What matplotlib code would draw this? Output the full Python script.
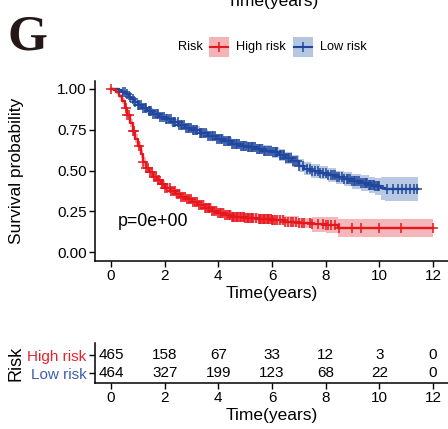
import numpy as np
import matplotlib
matplotlib.use("Agg")
import matplotlib.pyplot as plt
from matplotlib.patches import Rectangle
from matplotlib.lines import Line2D

plt.rcParams['font.family'] = ['Liberation Sans', 'DejaVu Sans']

# ---------------- data ----------------
groups = ["High risk", "Low risk"]
colors = {"High risk": "#E7161D", "Low risk": "#21479C"}
fills = {"High risk": "#F5B3B6", "Low risk": "#B5C6E3"}
label_colors = {"High risk": "#E8222A", "Low risk": "#3D5FAE"}

# Low risk survival steps
t_low = [0.00, 0.15, 0.30, 0.42, 0.55, 0.65, 0.75, 0.85, 1.00, 1.15, 1.35, 1.55,
         1.80, 2.00, 2.25, 2.50, 2.75, 3.00, 3.30, 3.60, 3.90, 4.20, 4.50, 4.80,
         5.10, 5.40, 5.70, 6.00, 6.25, 6.50, 6.75, 7.00, 7.20, 7.45, 7.80, 8.10,
         8.40, 8.70, 9.00, 9.30, 9.60, 9.85, 10.05, 10.20]
s_low = [1.000, 0.998, 0.990, 0.980, 0.965, 0.950, 0.935, 0.920, 0.900, 0.885, 0.865, 0.848,
         0.830, 0.812, 0.795, 0.778, 0.760, 0.745, 0.730, 0.712, 0.695, 0.678, 0.662, 0.652,
         0.642, 0.632, 0.622, 0.612, 0.595, 0.577, 0.557, 0.530, 0.510, 0.497, 0.487, 0.472,
         0.458, 0.447, 0.435, 0.425, 0.413, 0.403, 0.392, 0.386]
hw_low = [0.000, 0.003, 0.006, 0.008, 0.010, 0.011, 0.012, 0.013, 0.015, 0.016, 0.017, 0.018,
          0.019, 0.020, 0.021, 0.022, 0.023, 0.024, 0.025, 0.026, 0.027, 0.028, 0.029, 0.030,
          0.031, 0.032, 0.033, 0.034, 0.035, 0.036, 0.037, 0.038, 0.039, 0.040, 0.040, 0.041,
          0.042, 0.044, 0.046, 0.048, 0.050, 0.052, 0.070, 0.075]
end_low = 11.45
cens_low = [0.45, 0.52, 0.6, 0.7, 0.8, 0.9, 1.0, 1.05, 1.1, 1.18, 1.25, 1.32, 1.4, 1.45,
            1.5, 1.58, 1.65, 1.7, 1.75, 1.82, 1.9, 1.97, 2.05, 2.1, 2.15, 2.22, 2.3, 2.35,
            2.4, 2.48, 2.55, 2.6, 2.65, 2.72, 2.8, 2.85, 2.9, 2.98, 3.05, 3.1, 3.15, 3.22,
            3.3, 3.35, 3.4, 3.48, 3.55, 3.62, 3.7, 3.75, 3.8, 3.88, 3.95, 4.02, 4.1, 4.15,
            4.2, 4.28, 4.35, 4.4, 4.45, 4.52, 4.6, 4.65, 4.7, 4.78, 4.85, 4.9, 4.95, 5.02,
            5.1, 5.15, 5.2, 5.25, 5.3, 5.38, 5.45, 5.5, 5.55, 5.62, 5.7, 5.75, 5.8, 5.88,
            5.95, 6.02, 6.1, 6.15, 6.2, 6.28, 6.35, 6.4, 6.45, 6.52, 6.6, 6.65, 6.7, 6.78,
            6.85, 6.92, 7.0, 7.15, 7.3, 7.4, 7.5, 7.6, 7.7, 7.8, 7.9, 8.0, 8.1, 8.2,
            8.28, 8.35, 8.42, 8.5, 8.6, 8.7, 8.78, 8.85, 8.92, 9.0, 9.05, 9.1, 9.18, 9.25,
            9.32, 9.4, 9.45, 9.5, 9.55, 9.6, 9.65, 9.7, 9.75, 9.8, 9.85, 9.9, 9.95, 10.0,
            10.3, 10.5, 10.7, 10.85, 11.0, 11.15, 11.3, 11.4]

# High risk survival steps
t_high = [0.00, 0.10, 0.20, 0.30, 0.40, 0.50, 0.60, 0.70, 0.80, 0.90, 1.00, 1.10,
          1.20, 1.30, 1.40, 1.55, 1.70, 1.85, 2.00, 2.20, 2.40, 2.60, 2.80, 3.00,
          3.25, 3.50, 3.75, 4.00, 4.25, 4.50, 5.00, 5.50, 6.00, 6.50, 7.00, 7.50,
          8.00, 8.45]
s_high = [1.000, 0.995, 0.980, 0.955, 0.925, 0.885, 0.840, 0.790, 0.740, 0.695, 0.650, 0.600,
          0.555, 0.515, 0.488, 0.462, 0.440, 0.415, 0.395, 0.375, 0.358, 0.340, 0.325, 0.310,
          0.290, 0.272, 0.255, 0.240, 0.228, 0.218, 0.210, 0.203, 0.197, 0.188, 0.180, 0.172,
          0.166, 0.147]
hw_high = [0.000, 0.005, 0.010, 0.014, 0.017, 0.020, 0.022, 0.024, 0.025, 0.026, 0.026, 0.026,
           0.026, 0.026, 0.026, 0.026, 0.026, 0.026, 0.026, 0.026, 0.026, 0.027, 0.027, 0.028,
           0.028, 0.028, 0.029, 0.029, 0.030, 0.030, 0.030, 0.030, 0.030, 0.031, 0.031, 0.045,
           0.047, 0.055]
end_high = 12.0
cens_high = [0.0, 0.55, 0.6, 0.65, 0.82, 0.85, 1.05, 1.2, 1.3, 1.38, 1.45, 1.52, 1.6, 1.68,
             1.75, 1.8, 1.88, 1.95, 2.02, 2.1, 2.18, 2.25, 2.3, 2.38, 2.45, 2.52, 2.6, 2.68,
             2.75, 2.82, 2.9, 2.98, 3.05, 3.12, 3.2, 3.28, 3.35, 3.42, 3.5, 3.55, 3.6, 3.65,
             3.7, 3.78, 3.85, 3.92, 4.0, 4.05, 4.1, 4.18, 4.25, 4.32, 4.4, 4.45, 4.5, 4.55,
             4.6, 4.65, 4.7, 4.75, 4.8, 4.85, 4.9, 4.95, 5.0, 5.05, 5.1, 5.15, 5.2, 5.25,
             5.3, 5.4, 5.5, 5.55, 5.6, 5.65, 5.7, 5.75, 5.8, 5.85, 5.9, 5.95, 6.0, 6.05,
             6.1, 6.2, 6.3, 6.4, 6.5, 6.6, 6.7, 6.8, 6.9, 7.0, 7.1, 7.2, 7.4, 7.5, 7.7,
             7.9, 8.0, 8.1, 8.2, 8.35, 8.5, 9.0, 9.3, 10.0, 10.8, 12.0]

curves = {
    "High risk": (t_high, s_high, hw_high, end_high, cens_high),
    "Low risk": (t_low, s_low, hw_low, end_low, cens_low),
}

table_times = [0, 2, 4, 6, 8, 10, 12]
at_risk = {
    "High risk": [465, 158, 67, 33, 12, 3, 0],
    "Low risk": [464, 327, 199, 123, 68, 22, 0],
}
pval_text = "p=0e+00"

# ---------------- figure ----------------
W, H = 448, 429
fig = plt.figure(figsize=(W / 100, H / 100), dpi=100)

def fx(px):
    return px / W

def fy(py):
    return 1 - py / H

ax_w = fx(449) - fx(95)
ax = fig.add_axes([fx(95), fy(260.5), ax_w, fy(80.5) - fy(260.5)])

for g in ["Low risk", "High risk"]:
    t, s, hw, tend, cens = curves[g]
    t = np.append(np.array(t), tend)
    s = np.append(np.array(s), s[-1])
    hw = np.append(np.array(hw), hw[-1])
    lo = np.clip(s - hw, 0, 1)
    hi = np.clip(s + hw, 0, 1)
    ax.fill_between(t, lo, hi, step='post', color=fills[g], lw=0, alpha=0.95, zorder=1)
    ax.step(t, s, where='post', color=colors[g], lw=1.7, zorder=3)
    c = np.array(cens)
    idx = np.searchsorted(t, c, side='right') - 1
    ax.plot(c, s[idx], ls='none', marker='+', ms=6.5, mew=1.1, color=colors[g], zorder=4)

ax.set_xlim(-0.6, 12.6)
ax.set_ylim(-0.05, 1.05)
ax.set_xticks([0, 2, 4, 6, 8, 10, 12])
ax.set_yticks([0, 0.25, 0.5, 0.75, 1.0])
ax.set_yticklabels(["0.00", "0.25", "0.50", "0.75", "1.00"])
for sp in ["top", "right"]:
    ax.spines[sp].set_visible(False)
for sp in ["left", "bottom"]:
    ax.spines[sp].set_linewidth(1.1)
ax.tick_params(axis='both', labelsize=11, length=4, width=1, colors='black', pad=2)
ax.set_xlabel("Time(years)", fontsize=12.5, labelpad=2)
ax.set_ylabel("Survival probability", fontsize=12.5)
ax.yaxis.set_label_coords((24 - 95) / 354, 0.5)
ax.text(0.26, 0.186, pval_text, fontsize=12.8, ha='left', va='center', transform=ax.transData)

# ---------------- legend ----------------
ly = 47
fig.text(fx(178), fy(ly), "Risk", fontsize=9.2, ha='left', va='center')
for g, x0, tx in [("High risk", 209, 236), ("Low risk", 293, 320)]:
    fig.add_artist(Rectangle((fx(x0), fy(ly + 10)), fx(20), fy(ly - 10) - fy(ly + 10),
                             transform=fig.transFigure, facecolor=fills[g], edgecolor='none'))
    fig.add_artist(Line2D([fx(x0 + 1), fx(x0 + 19)], [fy(ly), fy(ly)], transform=fig.transFigure,
                          color=colors[g], lw=1.5))
    fig.add_artist(Line2D([fx(x0 + 10)], [fy(ly)], transform=fig.transFigure, marker='+',
                          ms=7, mew=1.1, color=colors[g], ls='none'))
    fig.text(fx(tx), fy(ly), g, fontsize=9.2, ha='left', va='center')

# ---------------- risk table ----------------
ax2 = fig.add_axes([fx(95), fy(383), ax_w, fy(343) - fy(383)])
ax2.set_xlim(-0.6, 12.6)
ax2.set_ylim(0.45, 2.67)
row_y = {"High risk": 2, "Low risk": 1}
for g in groups:
    for tt, n in zip(table_times, at_risk[g]):
        ax2.text(tt, row_y[g], str(n), ha='center', va='center', fontsize=11)
ax2.set_xticks(table_times)
ax2.set_yticks([row_y[g] for g in groups])
ax2.set_yticklabels(groups)
for lab, g in zip(ax2.get_yticklabels(), groups):
    lab.set_color(label_colors[g])
for sp in ["top", "right"]:
    ax2.spines[sp].set_visible(False)
for sp in ["left", "bottom"]:
    ax2.spines[sp].set_linewidth(1.1)
ax2.tick_params(axis='both', labelsize=11, length=4, width=1, pad=2)
ax2.tick_params(axis='x', colors='black')
ax2.set_xlabel("Time(years)", fontsize=12.5, labelpad=2)
ax2.set_ylabel("Risk", fontsize=13)
ax2.yaxis.set_label_coords((24 - 95) / 354, 0.5)

# ---------------- panel letter and cut-off title ----------------
fig.text(fx(8), fy(49), "G", fontsize=37, fontweight='bold', family='Liberation Serif',
         color='#231815', ha='left', va='baseline')
fig.text(fx(273), fy(6), "Time(years)", fontsize=12.5, ha='center', va='baseline')

fig.savefig("out.png", dpi=100)
